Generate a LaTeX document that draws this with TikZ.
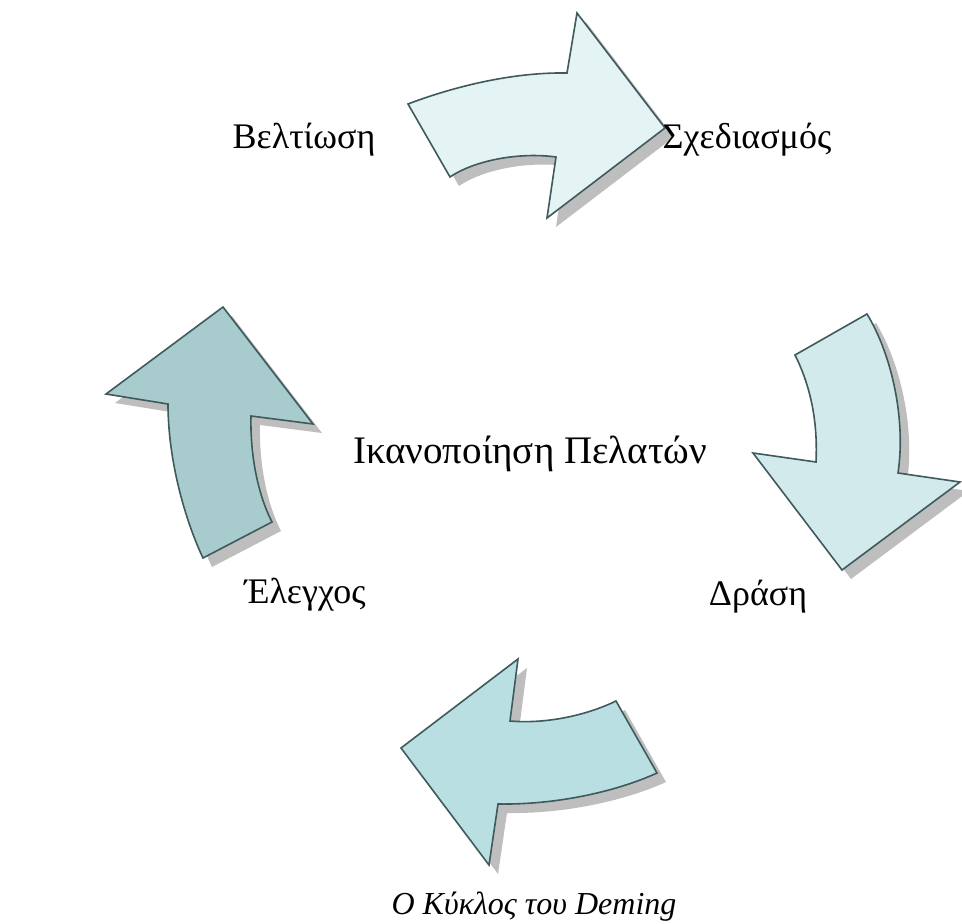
\documentclass[tikz,border=0pt]{standalone}
\usepackage{fontspec}
\setmainfont{Liberation Serif}
\begin{document}
\begin{tikzpicture}[x=1pt,y=-1pt,
  arrowshape/.style={draw=outline,line width=1.6pt,line join=miter},
  shadowshape/.style={fill=shadowgray,draw=none},
  lbl/.style={font=\fontsize{36}{40}\selectfont,inner sep=0pt,anchor=base},
  bigtxt/.style={font=\fontsize{39}{44}\selectfont,inner sep=0pt,anchor=base},
  captxt/.style={font=\fontsize{32}{36}\selectfont\itshape,inner sep=0pt,anchor=base}]
\definecolor{outline}{HTML}{3F5A5C}
\definecolor{shadowgray}{HTML}{BEBEBE}
\definecolor{fillA}{HTML}{E4F4F5}
\definecolor{fillB}{HTML}{D2EAEC}
\definecolor{fillC}{HTML}{B9DFE2}
\definecolor{fillD}{HTML}{A8CBCE}
\useasboundingbox[fill=white] (0,0) rectangle (962,924);
\def\arrA{(408,104) .. controls (450,88) and (510,72) .. (567,73) -- (577,13) -- (665,128) -- (547,218) -- (556,157) .. controls (520,152) and (475,160) .. (450,177) -- cycle}
\def\arrB{(795,355) -- (867,314) .. controls (892,355) and (906,420) .. (898,473) -- (960,482) -- (842,570) -- (753,453) -- (816,462) .. controls (818,420) and (810,385) .. (795,355) -- cycle}
\def\arrC{(401,748) -- (518,659) -- (510,721) .. controls (545,724) and (585,716) .. (616,701) -- (657,773) .. controls (620,790) and (560,805) .. (498,804) -- (489,865) -- cycle}
\def\arrD{(223,307) -- (313,424) -- (251,416) .. controls (250,455) and (258,495) .. (272,522) -- (203,558) .. controls (185,520) and (168,460) .. (168,404) -- (106,394) -- cycle}
\foreach \p in {\arrA,\arrB,\arrC,\arrD}{\path[shadowshape,shift={(9,9)}] \p;}
\path[arrowshape,fill=fillA] \arrA;
\path[arrowshape,fill=fillB] \arrB;
\path[arrowshape,fill=fillC] \arrC;
\path[arrowshape,fill=fillD] \arrD;
\node[lbl] (improve) at (304,148) {Βελτίωση};
\node[lbl] (plan) at (747,148) {Σχεδιασμός};
\node[bigtxt] (center) at (530,463) {Ικανοποίηση Πελατών};
\node[lbl] (check) at (305,603) {Έλεγχος};
\node[lbl] (act) at (758,605) {Δράση};
\node[captxt] (caption) at (534,914) {Ο Κύκλος του Deming};
\end{tikzpicture}
\end{document}
